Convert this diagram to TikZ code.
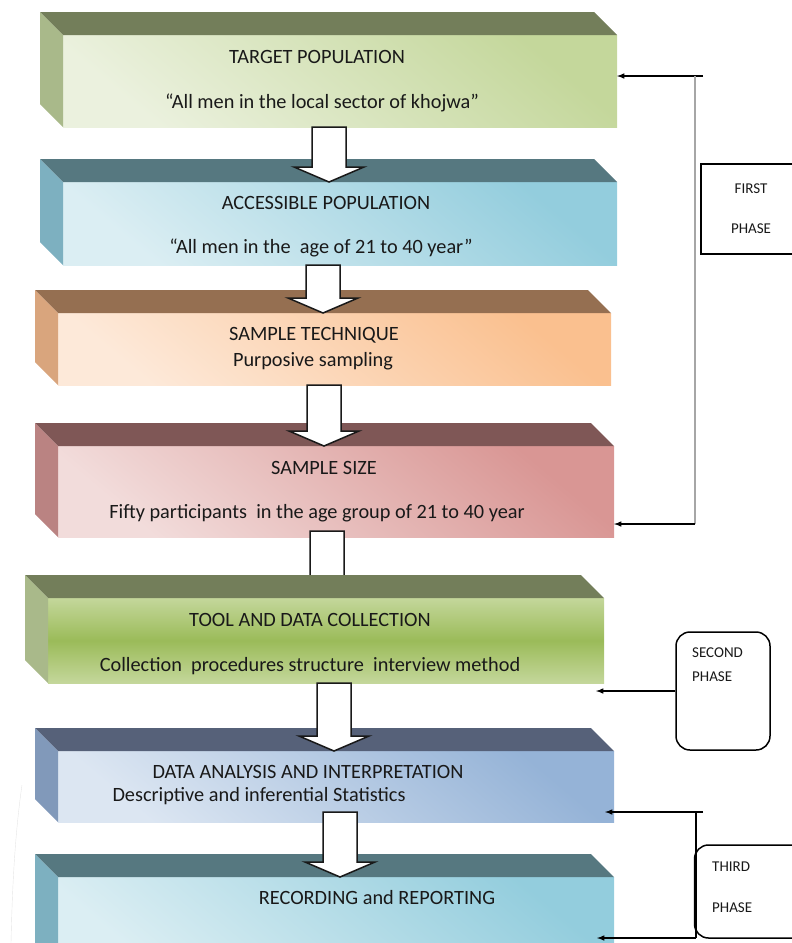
\documentclass[tikz,border=0pt]{standalone}
\usepackage{fontspec}
\setmainfont{Carlito}
\usetikzlibrary{calc}
\definecolor{oliveTop}{HTML}{737E5A}
\definecolor{oliveSide}{HTML}{A9B98A}
\definecolor{oliveHi}{HTML}{C4D79B}
\definecolor{oliveLo}{HTML}{EBF1DE}
\definecolor{oliveMid}{HTML}{9BBB59}
\definecolor{tealTop}{HTML}{567880}
\definecolor{tealSide}{HTML}{7DB0C0}
\definecolor{tealHi}{HTML}{93CDDD}
\definecolor{tealLo}{HTML}{DBEEF3}
\definecolor{brownTop}{HTML}{956F51}
\definecolor{brownSide}{HTML}{D9A57D}
\definecolor{brownHi}{HTML}{FAC08F}
\definecolor{brownLo}{HTML}{FDE9D9}
\definecolor{roseTop}{HTML}{7F5756}
\definecolor{roseSide}{HTML}{BA8382}
\definecolor{roseHi}{HTML}{D99694}
\definecolor{roseLo}{HTML}{F2DCDB}
\definecolor{slateTop}{HTML}{566179}
\definecolor{slateSide}{HTML}{8199BA}
\definecolor{slateHi}{HTML}{95B3D7}
\definecolor{slateLo}{HTML}{DCE6F2}
\tikzset{face/.style = {rectangle, inner sep=0pt, outer sep=0pt},
         lbl/.style = {font=\fontsize{20.3}{24}\selectfont, text=black!90, inner sep=0pt},
         phase/.style = {draw, line width=1.5pt, fill=white, inner sep=0pt},
         ptext/.style = {font=\fontsize{15}{18}\selectfont, text=black!90, inner sep=0pt, align=left},
         barrow/.style = {draw=black!90, fill=white, line width=1.5pt, line join=miter},
         link/.style = {->, line width=1.5pt}}
\newcommand{\boxsides}[3]{%
  \fill[#2] (#1.north west) -- ++(-23,-23) -- ([shift={(-23pt,23pt)}]#1.north east) -- (#1.north east) -- cycle;
  \fill[#3] (#1.north west) -- ++(-23,-23) -- ([shift={(-23pt,23pt)}]#1.south west) -- (#1.south west) -- cycle;}
\newcommand{\blockarrow}[4]{%
  \draw[barrow] let \p1=(#2.south), \p2=(#3.north) in
    (#1pt-17pt,\y1+#4pt) -- (#1pt-17pt,\y2+15pt) -- (#1pt-35pt,\y2+15pt) -- (#1pt,\y2)
    -- (#1pt+35pt,\y2+15pt) -- (#1pt+17pt,\y2+15pt) -- (#1pt+17pt,\y1+#4pt) -- cycle;}
\begin{document}
\begin{tikzpicture}[x=1pt,y=-1pt,>=latex]
        \useasboundingbox (0,0) rectangle (792,943);
        \draw[gray!20] (22,785) .. controls (14,840) and (12,900) .. (11,943);
        \node[face, top color=oliveHi, bottom color=oliveLo, shading angle=-40, minimum width=554pt, minimum height=92pt](b1)at(340,81){};
        \boxsides{b1}{oliveTop}{oliveSide}
        \node[lbl](t1)at(317,57){TARGET POPULATION};
        \node[lbl](s1)at(322,103){“All men in the local sector of khojwa”};
        \node[face, top color=tealHi, bottom color=tealLo, shading angle=-40, minimum width=554pt, minimum height=83pt](b2)at(340,223.5){};
        \boxsides{b2}{tealTop}{tealSide}
        \node[lbl](t2)at(326,203){ACCESSIBLE POPULATION};
        \node[lbl](s2)at(321,248){“All men in the~ age of 21 to 40 year”};
        \blockarrow{329}{b1}{b2}{0}
        \node[face, top color=brownHi, bottom color=brownLo, shading angle=-40, minimum width=553pt, minimum height=72pt](b3)at(334.5,349){};
        \boxsides{b3}{brownTop}{brownSide}
        \node[lbl](t3)at(314,335){SAMPLE TECHNIQUE};
        \node[lbl](s3)at(313,361){Purposive sampling};
        \blockarrow{323}{b2}{b3}{0}
        \node[face, top color=roseHi, bottom color=roseLo, shading angle=-40, minimum width=556pt, minimum height=91pt](b4)at(336,491.5){};
        \boxsides{b4}{roseTop}{roseSide}
        \node[lbl](t4)at(324,468){SAMPLE SIZE};
        \node[lbl](s4)at(317,513){Fifty participants~ in the age group of 21 to 40 year};
        \blockarrow{324}{b3}{b4}{0}
        \node[inner sep=0pt, outer sep=0pt, minimum size=0pt](b5top)at(327,598){};
        \blockarrow{327}{b4}{b5top}{6}
        \node[face, top color=oliveHi, bottom color=oliveHi, middle color=oliveMid, minimum width=556pt, minimum height=85pt](b5)at(326,640.5){};
        \boxsides{b5}{oliveTop}{oliveSide}
        \node[lbl](t5)at(310,620){TOOL AND DATA COLLECTION};
        \node[lbl](s5)at(310,666){Collection~ procedures structure~ interview method};
        \node[face, top color=slateHi, bottom color=slateLo, shading angle=-40, minimum width=556pt, minimum height=71pt](b6)at(336,786.5){};
        \boxsides{b6}{slateTop}{slateSide}
        \node[lbl](t6)at(308,772){DATA ANALYSIS AND INTERPRETATION};
        \node[lbl](s6)at(259,796){Descriptive and inferential Statistics};
        \blockarrow{334}{b5}{b6}{0}
        \node[face, top color=tealHi, bottom color=tealLo, shading angle=-40, minimum width=556pt, minimum height=93pt](b7)at(336,923.5){};
        \boxsides{b7}{tealTop}{tealSide}
        \node[lbl](t7)at(377,898){RECORDING and REPORTING};
        \blockarrow{340}{b6}{b7}{10}
        \node[phase, minimum width=100pt, minimum height=90pt, align=center, font=\fontsize{15}{18}\selectfont, text=black!90](ph1)at(751,209){FIRST\\[22pt]PHASE};
        \coordinate (p1a) at (703,76);
        \coordinate (p1b) at (695,524);
        \draw[link] (p1a) -- (b1.east |- p1a);
        \draw[gray!70, line width=2pt] (p1a -| p1b) -- (p1b);
        \draw[link] (p1b) -- (b4.east |- p1b);
        \node[phase, rounded corners=14pt, minimum width=94pt, minimum height=118pt](ph2)at(723,691){};
        \node[ptext, anchor=north west](ph2t)at(692,648){SECOND\\[6pt]PHASE};
        \draw[link, shorten >=-8pt] (ph2.west) -- (b5.east |- ph2.west);
        \node[phase, rounded corners=14pt, minimum width=115pt, minimum height=93pt](ph3)at(752,891.5){};
        \node[ptext, anchor=north west](ph3t)at(712,862){THIRD\\[23pt]PHASE};
        \coordinate (p3a) at (703,812);
        \coordinate (p3b) at (696,938);
        \draw[link, shorten >=-9pt] (p3a) -- (b6.east |- p3a);
        \draw[line width=1.5pt] (p3a -| p3b) -- (p3b);
        \draw[link, shorten >=-17pt] (p3b) -- (b7.east |- p3b);
    \end{tikzpicture}
\end{document}
